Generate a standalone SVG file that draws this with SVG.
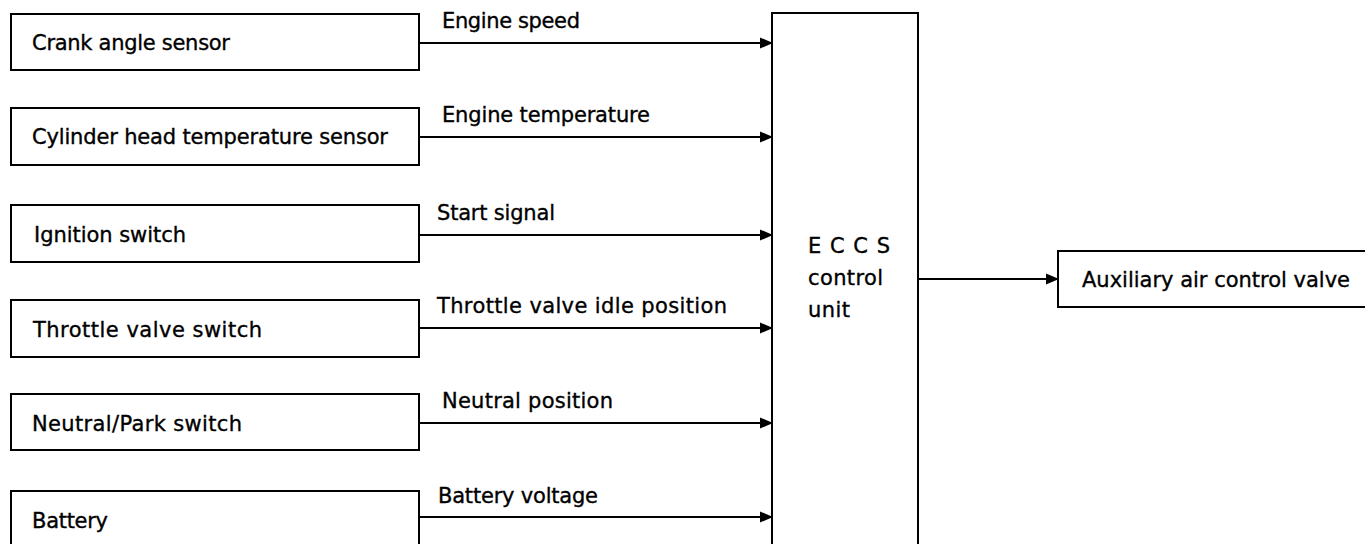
<svg xmlns="http://www.w3.org/2000/svg" width="1365" height="544" viewBox="0 0 1365 544">
<style>
.box{fill:#fff;stroke:#000;stroke-width:2}
.t{font-family:"DejaVu Sans",sans-serif;font-size:21px;fill:#000;stroke:#000;stroke-width:0.35}
.c{stroke:#000;stroke-width:2;fill:none}
</style>
<defs>
<marker id="ah" markerWidth="13" markerHeight="12" refX="12" refY="6" orient="auto" markerUnits="userSpaceOnUse">
<path d="M0,0.5 L13,6 L0,11.5 Z" fill="#000"/>
</marker>
</defs>
<rect width="1365" height="544" fill="#fff"/>
<g id="crank"><rect class="box" x="11" y="14" width="408" height="56"/><text class="t" x="32" y="50" textLength="198">Crank angle sensor</text></g>
<g id="cht"><rect class="box" x="11" y="108" width="408" height="57"/><text class="t" x="32" y="144" textLength="356">Cylinder head temperature sensor</text></g>
<g id="ign"><rect class="box" x="11" y="205" width="408" height="57"/><text class="t" x="34" y="242" textLength="152">Ignition switch</text></g>
<g id="tvs"><rect class="box" x="11" y="300" width="408" height="57"/><text class="t" x="33" y="337" textLength="229">Throttle valve switch</text></g>
<g id="np"><rect class="box" x="11" y="394" width="408" height="56"/><text class="t" x="32" y="431" textLength="210">Neutral/Park switch</text></g>
<g id="bat"><rect class="box" x="11" y="491" width="408" height="70"/><text class="t" x="32" y="528" textLength="76">Battery</text></g>
<g id="eccs"><rect class="box" x="772" y="13" width="146" height="560"/>
<text class="t" x="808" y="253" textLength="82">E C C S</text><text class="t" x="808" y="285" textLength="75">control</text><text class="t" x="808" y="317" textLength="42">unit</text></g>
<g id="aacv"><rect class="box" x="1058" y="251" width="330" height="56"/><text class="t" x="1082" y="287" textLength="268">Auxiliary air control valve</text></g>
<g id="connectors">
<line class="c" x1="419" y1="43" x2="772" y2="43" marker-end="url(#ah)"/>
<line class="c" x1="419" y1="137" x2="772" y2="137" marker-end="url(#ah)"/>
<line class="c" x1="419" y1="235" x2="772" y2="235" marker-end="url(#ah)"/>
<line class="c" x1="419" y1="328" x2="772" y2="328" marker-end="url(#ah)"/>
<line class="c" x1="419" y1="423" x2="772" y2="423" marker-end="url(#ah)"/>
<line class="c" x1="419" y1="517" x2="772" y2="517" marker-end="url(#ah)"/>
<line class="c" x1="918" y1="279" x2="1058" y2="279" marker-end="url(#ah)"/>
<text class="t" x="442" y="28" textLength="138">Engine speed</text>
<text class="t" x="442" y="122" textLength="208">Engine temperature</text>
<text class="t" x="437" y="220" textLength="118">Start signal</text>
<text class="t" x="437" y="313" textLength="290">Throttle valve idle position</text>
<text class="t" x="442" y="408" textLength="171">Neutral position</text>
<text class="t" x="438" y="503" textLength="160">Battery voltage</text>
</g>
</svg>
